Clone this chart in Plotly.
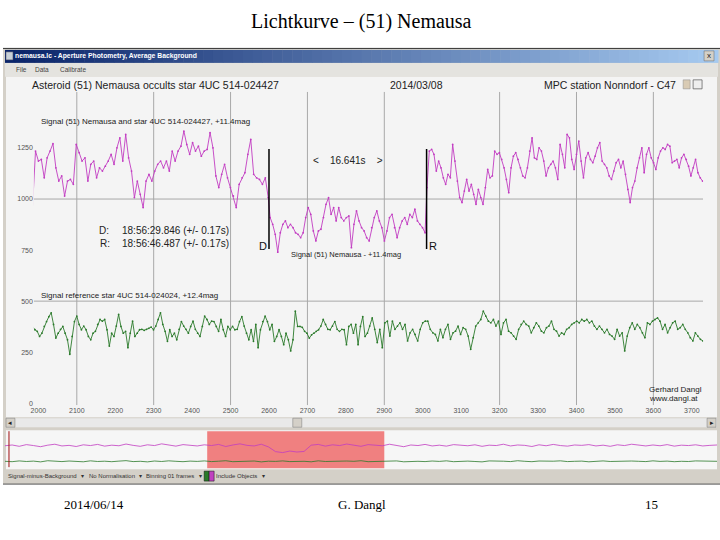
import numpy as np
import plotly.graph_objects as go

# ---------------- data ----------------
# magenta: signal of (51) Nemausa + star (counts), in three segments
sig_pre = [966,1235,1186,1194,1104,1202,1235,1271,1153,1088,1113,1015,1088,1096,1072,1267,1227,1186,1202,1088,
           1170,1186,1104,1153,1137,1161,1186,1219,1170,1251,1300,1186,1316,1202,1137,1007,1088,1023,958,1088,
           1121,1088,1137,1170,1186,1153,1186,1137,1235,1186,1235,1259,1333,1267,1219,1276,1235,1259,1210,1235,
           1243,1325,1251,1113,1056,1121,1170,1104,1056,1015,958,1072,1104,1129,1219,1292,1121,1104,1096,1072,
           1104,1007]
sig_occ = [909,876,827,740,835,876,893,860,876,860,835,827,811,835,909,958,925,844,795,844,852,909,974,1007,
           925,958,893,958,909,893,909,917,762,876,942,893,860,844,811,795,860,909,942,893,860,795,844,909,925,
           860,811,860,893,909,876,925,909,950,893,876,860,835]
sig_post = [1056,1235,1243,1219,1137,1186,1153,1104,1072,1121,1104,1267,1186,1088,1007,983,1039,1096,1039,1072,
            1023,974,1047,1007,974,1056,1145,1104,1113,1235,1219,1227,1194,1153,1096,1031,1153,1210,1227,1194,
            1153,1113,1104,1153,1235,1300,1202,1194,1251,1235,1186,1113,1153,1170,1186,1153,1096,1267,1219,1153,
            1316,1300,1194,1145,1219,1284,1186,1104,1202,1227,1194,1178,1210,1251,1276,1186,1170,1153,1113,1096,
            1137,1178,1194,1153,1186,1121,1047,983,1056,1088,1153,1202,1251,1129,1219,1251,1202,1178,1145,1202,
            1235,1251,1243,1267,1259,1178,1186,1194,1153,1202,1219,1194,1161,1113,1153,1194,1129,1104,1088]
# frame spans of the segments
seg_pre_frames = (1985, 2598)
seg_occ_frames = (2603, 3006)
seg_post_frames = (3011, 3728)

# green: reference star 4UC 514-024024
ref_left = [376,360,352,327,343,376,400,424,443,386,319,343,362,376,343,311,240,327,400,427,386,360,378,360,327,
            311,343,352,386,410,402,410,360,280,343,327,378,435,376,343,352,272,343,402,327,343,360,362,357,362,
            367,373,360,378,410,443,386,352,303,360,327,343,311,362,400,378,362,343,376,402,362,343,327,376,427,
            410,386,402,400,376,352,410,360,327,376,360,376,360,362,400,424,378,343,311,360,303,386,272,360,400,
            427,400,360,386,303,327,360,327,287,343,311,256,311,451,376,376,372,352,343,319,335,343,352,360,378,
            410,386,362,360,378,400,362,352,362,360,287,376,386,343,386,287,376,424,327,343]
ref_right = [378,418,362,297,362,272,394,402,329,402,362,378,394,362,386,305,345,362,337,305,362,394,402,402,362,
             345,337,305,362,321,362,386,313,345,353,378,337,370,362,329,264,321,378,394,410,451,427,402,394,410,
             378,402,337,394,410,353,345,329,313,362,386,402,386,378,345,370,394,378,353,345,370,378,402,362,353,
             329,345,337,362,370,386,394,402,394,410,402,410,394,402,378,362,378,362,345,362,337,329,313,362,329,
             345,256,329,370,394,362,386,370,345,321,394,386,402,410,418,402,362,386,345,370,394,402,362,370,386,
             362,345,321,305,345,329,313,305]
ref_left_frames = (1985, 2856)
ref_right_frames = (2862, 3729)

# overview strip (whole recording, frames 0..7000)
ov_frames = (0, 7000)
ov_sig = [1180,1220,1150,1240,1190,1130,1210,1260,1170,1200,1140,1230,1190,1250,1160,1210,1180,1270,1200,1150,
          1230,1190,1280,1210,1160,1240,1200,1170,1230,1190,1250,1140,1220,1280,1200,1170,1260,1120,870,820,
          900,850,880,1210,1250,1160,1230,1190,1270,1200,1150,1240,1210,1180,1260,1200,1130,1220,1190,1250,
          1170,1210,1160,1240,1200,1180,1230,1150,1210,1190,1260,1170,1220,1200,1140,1230,1180,1250,1190,1160,
          1220,1200,1240,1170,1210,1150,1230,1190,1260,1200,1170,1220,1180,1240,1160,1210,1190,1230,1170,1200,1220]
ov_ref = [360,340,380,350,370,330,390,355,345,375,360,335,385,350,365,340,370,395,345,360,330,375,350,385,360,
          340,370,355,380,345,365,390,340,360,350,375,330,365,355,380,345,370,360,335,385,350,365,345,375,360,
          390,340,355,370,350,380,335,365,360,345,375,355,385,340,360,370,350,330,380,355,365,345,390,360,340,
          375,350,365,385,345,360,370,335,355,380,350,365,340,375,360,345,385,355,370,340,360,350,380,365,345,360]

x_ticks = list(range(2000, 3701, 100))
y_ticks = [0, 250, 500, 750, 1000, 1250]
grid_x = [2100, 2300, 2500, 2700, 2900, 3200, 3400, 3600]
grid_y = [500, 1000]
d_frame, r_frame = 2600, 3010
d_time, r_time = "18:56:29.846", "18:56:46.487"
duration = "16.641s"
window_frames = (1988, 3729)

# ---------------- helpers ----------------
W, H = 720, 540
def px(x): return x / W
def py(y): return 1 - y / H

x_range = [1988.3, 3729.3]
y_range = [-9.8, 1525]

shapes, ann = [], []

def rect(x0, y0, x1, y1, fill, line=None, lw=0, layer='below'):
    d = dict(type='rect', xref='paper', yref='paper', x0=px(x0), x1=px(x1), y0=py(y1), y1=py(y0),
             fillcolor=fill, layer=layer, line=dict(width=lw, color=line or fill))
    shapes.append(d)

def text(x, y, s, size=8, color='#222', anchor='left', family='Liberation Sans', bold=False):
    ann.append(dict(x=px(x), y=py(y), xref='paper', yref='paper', text=(f'<b>{s}</b>' if bold else s),
                    showarrow=False, xanchor=anchor, yanchor='middle', borderpad=0, borderwidth=0,
                    font=dict(size=size, color=color, family=family)))

# window frame
rect(0, 48, 720, 485, '#d4d0c8')
shapes.append(dict(type='line', xref='paper', yref='paper', x0=0, x1=1, y0=py(48.5), y1=py(48.5),
                   line=dict(color='#333', width=1), layer='below'))
# title bar gradient
c0, c1 = np.array([10, 36, 106]), np.array([166, 202, 240])
n = 72
for i in range(n):
    t = i / (n - 1)
    c = (c0 + (c1 - c0) * t).astype(int)
    a = 2 + i * 716 / n
    rect(a, 50, a + 716 / n + 0.5, 63, f'rgb({c[0]},{c[1]},{c[2]})')
rect(3, 52, 10, 60, '#c8d0d8', line='#556', lw=0.5)
rect(704, 51, 714, 61, '#d4d0c8', line='#666', lw=0.5)
text(709, 56, 'x', size=8, color='#222', anchor='center')
text(12, 56.5, 'nemausa.lc - Aperture Photometry, Average Background', size=6.8, color='white', bold=True)
# menu bar
rect(2, 63, 718, 77, '#e4e3df')
text(13, 70, 'File', size=6.5, color='#444')
text(32, 70, 'Data', size=6.5, color='#444')
text(57, 70, 'Calibrate', size=6.5, color='#444')
# plot area
rect(3, 77, 717, 418, '#f4f4f4')
# scrollbar
rect(3, 419, 717, 428, '#e9e9e9')
rect(3, 419, 12, 428, '#d4d0c8', line='#777', lw=0.5)
text(7.5, 423.5, '◂', size=7, color='#222', anchor='center')
rect(291, 419, 300, 428, '#d4d0c8', line='#777', lw=0.5)
rect(707, 419, 716, 428, '#d4d0c8', line='#777', lw=0.5)
text(711.5, 423.5, '▸', size=7, color='#222', anchor='center')
# overview strip
rect(3, 431, 717, 470, '#f6f6f6')
shapes.append(dict(type='line', xref='paper', yref='paper', x0=px(6), x1=px(6), y0=py(468), y1=py(432),
                   line=dict(color='#a01010', width=1), layer='above'))
# status bar texts
for xx, s in [(5, 'Signal-minus-Background'), (86, 'No Normalisation'), (144, 'Binning 01 frames'),
              (214, 'Include Objects')]:
    text(xx, 477, s, size=6, color='#333')
for xx in (80, 138, 198, 262):
    text(xx, 477, '▾', size=6, color='#333', anchor='center')
rect(202, 472, 207, 482, '#2a7a2a', line='#111', lw=0.5)
rect(207, 472, 212, 482, '#c040c0', line='#111', lw=0.5)
shapes.append(dict(type='line', xref='paper', yref='paper', x0=0, x1=1, y0=py(485), y1=py(485),
                   line=dict(color='#555', width=1), layer='below'))

# texts inside plot area
text(29, 85, 'Asteroid (51) Nemausa occults star 4UC 514-024427', size=10.5, color='#222')
text(389, 85, '2014/03/08', size=10.5, color='#222')
text(676, 85, 'MPC station Nonndorf - C47', size=10.5, color='#222', anchor='right')
rect(683, 80, 690, 89, '#d9cbb4', line='#888', lw=0.5)
rect(693, 80, 702, 89, '#eeeeee', line='#555', lw=0.7)
text(38, 122, 'Signal (51) Nemausa and star 4UC 514-024427, +11.4mag', size=8, color='#222')
text(96, 231, 'D:', size=10, color='#222')
text(119, 231, f'{d_time} (+/- 0.17s)', size=10, color='#222')
text(97, 244, 'R:', size=10, color='#222')
text(119, 244, f'{r_time} (+/- 0.17s)', size=10, color='#222')
text(289, 255, 'Signal (51) Nemausa - +11.4mag', size=7.5, color='#222')
text(38, 296, 'Signal reference star 4UC 514-024024, +12.4mag', size=8, color='#222')
text(649, 390, 'Gerhard Dangl', size=8, color='#222')
text(649, 399, 'www.dangl.at', size=8, color='#222')

# data-referenced annotations (event labels)
ann.append(dict(x=(d_frame + r_frame) / 2, y=py(161), xref='x', yref='paper', showarrow=False,
                text=f'&lt;    {duration}    &gt;', font=dict(size=10, color='#222', family='Liberation Sans'),
                xanchor='center', yanchor='middle'))
ann.append(dict(x=d_frame, y=py(246), xref='x', yref='paper', showarrow=False, text='D', xanchor='right',
                xshift=0, yanchor='middle', font=dict(size=11, color='#111', family='Liberation Sans')))
ann.append(dict(x=r_frame, y=py(246), xref='x', yref='paper', showarrow=False, text='R', xanchor='left',
                xshift=0, yanchor='middle', font=dict(size=11, color='#111', family='Liberation Sans')))

# gridlines
for g in grid_x:
    shapes.append(dict(type='line', xref='x', yref='y', x0=g, x1=g, y0=y_range[0], y1=y_range[1],
                       line=dict(color='#a8a8a8', width=1), layer='below'))
for g in grid_y:
    shapes.append(dict(type='line', xref='x', yref='y', x0=x_range[0], x1=x_range[1], y0=g, y1=g,
                       line=dict(color='#a8a8a8', width=1), layer='below'))
# D / R event lines
for f in (d_frame, r_frame):
    shapes.append(dict(type='line', xref='x', yref='y', x0=f, x1=f, y0=755, y1=1245,
                       line=dict(color='#000', width=1.5), layer='above'))
# visible window in overview
shapes.append(dict(type='rect', xref='x2', yref='paper', x0=window_frames[0], x1=window_frames[1],
                   y0=py(469), y1=py(432), fillcolor='#f08080', line=dict(width=0), layer='below'))

# ---------------- traces ----------------
sig_x = np.concatenate([np.linspace(*seg_pre_frames, len(sig_pre)),
                        np.linspace(*seg_occ_frames, len(sig_occ)),
                        np.linspace(*seg_post_frames, len(sig_post))])
sig_y = sig_pre + sig_occ + sig_post
ref_x = np.concatenate([np.linspace(*ref_left_frames, len(ref_left)),
                        np.linspace(*ref_right_frames, len(ref_right))])
ref_y = ref_left + ref_right

MAG, GRN = '#c23cc2', '#2b7a2b'
fig = go.Figure()
fig.add_trace(go.Scatter(x=sig_x, y=sig_y, mode='lines+markers', line=dict(color=MAG, width=0.9),
                         marker=dict(size=1.8, color=MAG), xaxis='x', yaxis='y'))
fig.add_trace(go.Scatter(x=ref_x, y=ref_y, mode='lines+markers', line=dict(color=GRN, width=0.9),
                         marker=dict(size=1.8, color=GRN), xaxis='x', yaxis='y'))
fig.add_trace(go.Scatter(x=np.linspace(*ov_frames, len(ov_sig)), y=ov_sig, mode='lines',
                         line=dict(color=MAG, width=0.8), xaxis='x2', yaxis='y2'))
fig.add_trace(go.Scatter(x=np.linspace(*ov_frames, len(ov_ref)), y=ov_ref, mode='lines',
                         line=dict(color=GRN, width=0.8), xaxis='x2', yaxis='y2'))

# slide title and footer
ann.append(dict(x=0.5, y=py(22), xref='paper', yref='paper', text='Lichtkurve – (51) Nemausa', showarrow=False,
                xanchor='center', yanchor='middle', font=dict(size=20, color='#000', family='Liberation Serif')))
for xx, s in [(91, '2014/06/14'), (360, 'G. Dangl'), (651, '15')]:
    ann.append(dict(x=px(xx), y=py(505), xref='paper', yref='paper', text=s, showarrow=False,
                    xanchor='center', yanchor='middle', font=dict(size=13, color='#000', family='Liberation Serif')))

fig.update_layout(
    width=W, height=H, margin=dict(l=0, r=0, t=0, b=0),
    paper_bgcolor='white', plot_bgcolor='rgba(0,0,0,0)', showlegend=False,
    shapes=shapes, annotations=ann,
    xaxis=dict(domain=[px(31), px(703)], range=x_range, showgrid=False, zeroline=False, showline=False,
               tickvals=x_ticks, ticks='', tickfont=dict(size=7, color='#555', family='Liberation Sans')),
    yaxis=dict(domain=[py(406), py(92)], range=y_range, showgrid=False, zeroline=False, showline=False,
               tickvals=y_ticks, ticks='', tickfont=dict(size=7, color='#555', family='Liberation Sans')),
    xaxis2=dict(domain=[px(2), px(717)], range=list(ov_frames), visible=False, anchor='y2'),
    yaxis2=dict(domain=[py(469), py(431)], range=[0, 2000], visible=False, anchor='x2'),
)
fig.write_html('out.html', config={'displayModeBar': False},
               post_script="document.body.style.margin='0';")
